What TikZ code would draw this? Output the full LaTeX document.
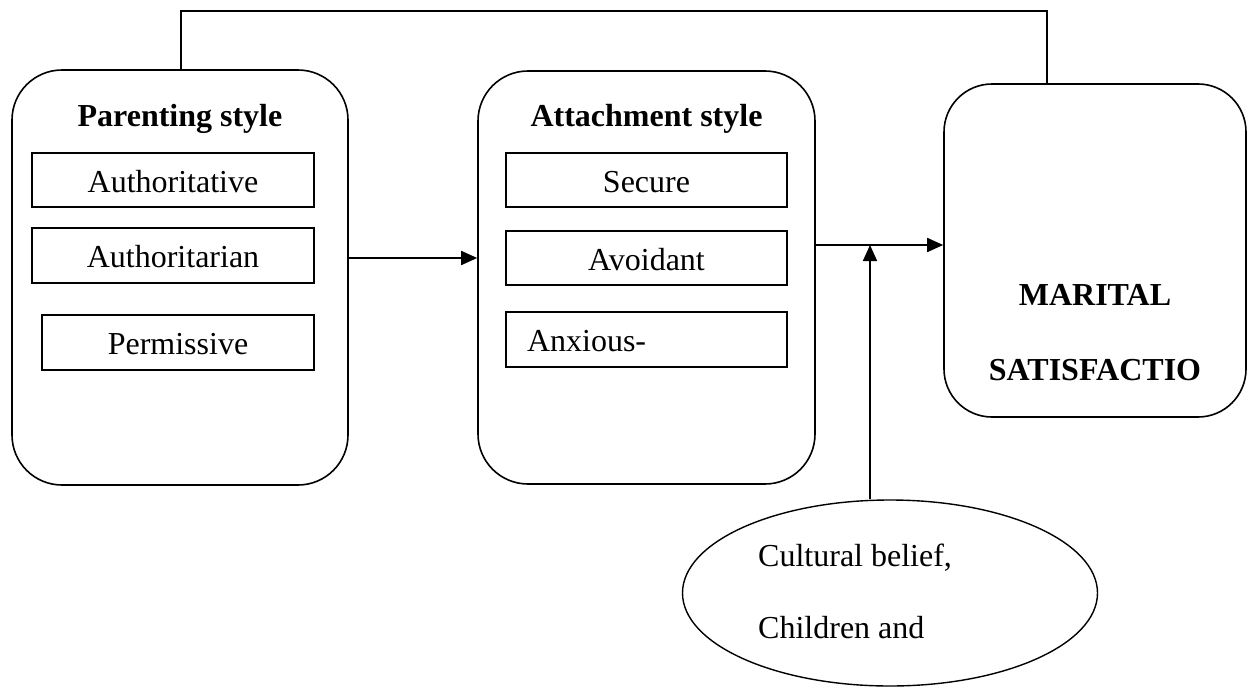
\documentclass[tikz,border=0pt]{standalone}
\usepackage{fontspec}
\setmainfont{Liberation Serif}
\usetikzlibrary{shapes.geometric,arrows.meta}
\begin{document}
\begin{tikzpicture}[x=1pt,y=-1pt,
  every node/.style={font=\fontsize{32}{38}\selectfont},
  bigbox/.style={draw, line width=1.6pt, rounded corners=50pt, inner sep=0pt},
  inbox/.style={draw, line width=1.1pt, minimum height=54pt, text height=24pt, text depth=0pt, inner sep=0pt},
  titletext/.style={font=\fontsize{32}{38}\selectfont\bfseries, inner sep=0pt, anchor=base},
  plaintext/.style={inner sep=0pt, anchor=base west},
  conn/.style={line width=1.7pt},
  arr/.style={line width=1.7pt, -{Triangle[length=16pt,width=14pt]}}
]
\fill[white] (0,0) rectangle (1247,688);
\useasboundingbox (0,0) rectangle (1247,688);
% big boxes
\node[bigbox, minimum width=336pt, minimum height=415pt] (pbox) at (180,277.5) {};
\node[bigbox, minimum width=337pt, minimum height=413pt] (abox) at (646.5,277.5) {};
\node[bigbox, rounded corners=48pt, minimum width=302pt, minimum height=333pt] (mbox) at (1095,250.5) {};
% titles
\node[titletext] (ptitle) at (180,126) {Parenting style};
\node[titletext] (atitle) at (646.5,126) {Attachment style};
% inner boxes
\node[inbox, minimum width=282pt] (p1) at (173,180) {Authoritative};
\node[inbox, minimum width=282pt, minimum height=55pt] (p2) at (173,255.5) {Authoritarian};
\node[inbox, minimum width=272pt, minimum height=55pt] (p3) at (178,342.5) {Permissive};
\node[inbox, minimum width=281pt] (a1) at (646.5,180) {Secure};
\node[inbox, minimum width=281pt] (a2) at (646.5,258) {Avoidant};
\node[inbox, minimum width=281pt, minimum height=55pt, text width=239pt, inner xsep=21pt, align=left] (a3) at (646.5,339.5) {Anxious-};
% outcome text
\node[titletext] (m1) at (1095,305) {MARITAL};
\node[titletext] (m2) at (1095,380) {SATISFACTIO};
% moderator ellipse
\node[draw, ellipse, line width=1.4pt, minimum width=415pt, minimum height=186pt, inner sep=0pt] (ell) at (890,593) {};
\node[plaintext] (e1) at (758,566) {Cultural belief,};
\node[plaintext] (e2) at (758,638) {Children and};
% connectors
\coordinate (t1) at (181,11);
\coordinate (t2) at (1047,11);
\coordinate (h1) at (0,258);
\coordinate (h2) at (870,245);
\draw[conn] (pbox.north -| t1) -- (t1) -- (t2) -- (mbox.north -| t2);
\draw[arr] (pbox.east |- h1) -- (abox.west |- h1);
\draw[arr] (abox.east |- h2) -- (mbox.west |- h2);
\draw[arr] (ell.north -| h2) -- (h2);
\end{tikzpicture}
\end{document}
